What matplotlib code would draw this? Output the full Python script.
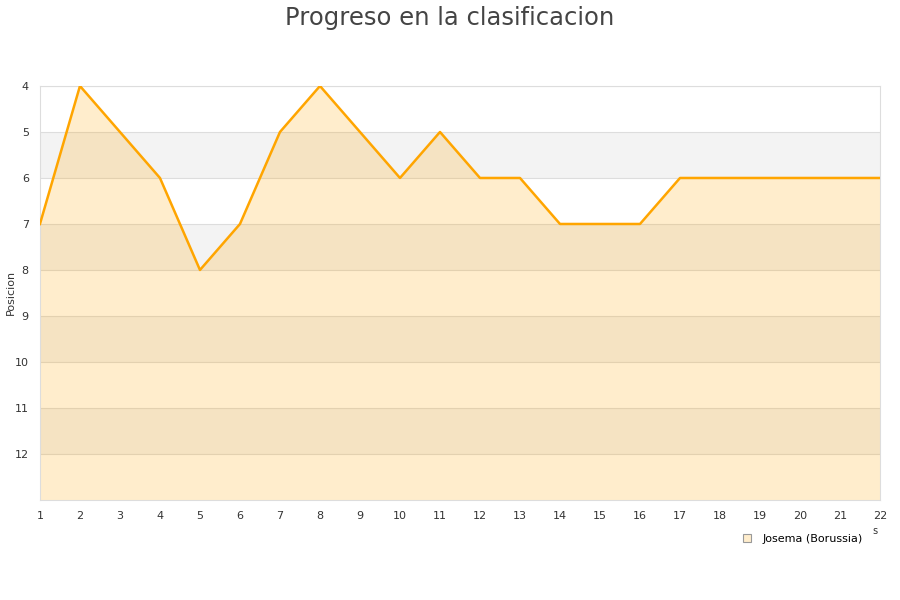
import matplotlib.pyplot as plt
from matplotlib.lines import Line2D

plt.rcParams["font.family"] = "DejaVu Sans"

rounds = list(range(1, 23))
positions = [7, 4, 5, 6, 8, 7, 5, 4, 5, 6, 5, 6, 6, 7, 7, 7, 6, 6, 6, 6, 6, 6]
y_ticks = [4, 5, 6, 7, 8, 9, 10, 11, 12]
y_bottom = 13
series_label = "Josema (Borussia)"

fig = plt.figure(figsize=(9, 6), dpi=100)
ax = fig.add_axes([0.0444, 0.1667, 0.9334, 0.69])

# alternating bands
for start in range(5, y_bottom, 2):
    ax.axhspan(start, start + 1, color="#f3f3f3", zorder=0, linewidth=0)
for y in range(4, y_bottom):
    ax.axhline(y, color="#dddddd", linewidth=0.8, zorder=1)

ax.fill_between(rounds, positions, y_bottom, color="#ffa500", alpha=0.2, linewidth=0, zorder=2)
ax.plot(rounds, positions, color="#ffa500", linewidth=1.8, zorder=3)

ax.set_xlim(1, 22)
ax.set_ylim(y_bottom, 4)
ax.set_xticks(rounds)
ax.set_yticks(y_ticks)
ax.tick_params(axis="both", length=0, labelsize=8, colors="#333333")
ax.tick_params(axis="x", pad=8)
ax.tick_params(axis="y", pad=8)
for spine in ax.spines.values():
    spine.set_color("#dddddd")
fig.text(0.012, 0.512, "Posicion", fontsize=8, color="#333333",
         rotation=90, ha="center", va="center")

fig.suptitle("Progreso en la clasificacion", fontsize=17.5, color="#444444", y=0.99)

fig.text(0.972, 0.115, "s", fontsize=7, color="#333333", ha="center", va="center")

handle = Line2D([], [], marker="s", linestyle="none", markersize=6,
                markerfacecolor="#ffedcc", markeredgecolor="#999999", markeredgewidth=0.8)
fig.legend([handle], [series_label], loc="center", bbox_to_anchor=(0.888, 0.1017),
           frameon=False, fontsize=8, handletextpad=0.4)

fig.savefig("out.png", dpi=100, facecolor="white")
